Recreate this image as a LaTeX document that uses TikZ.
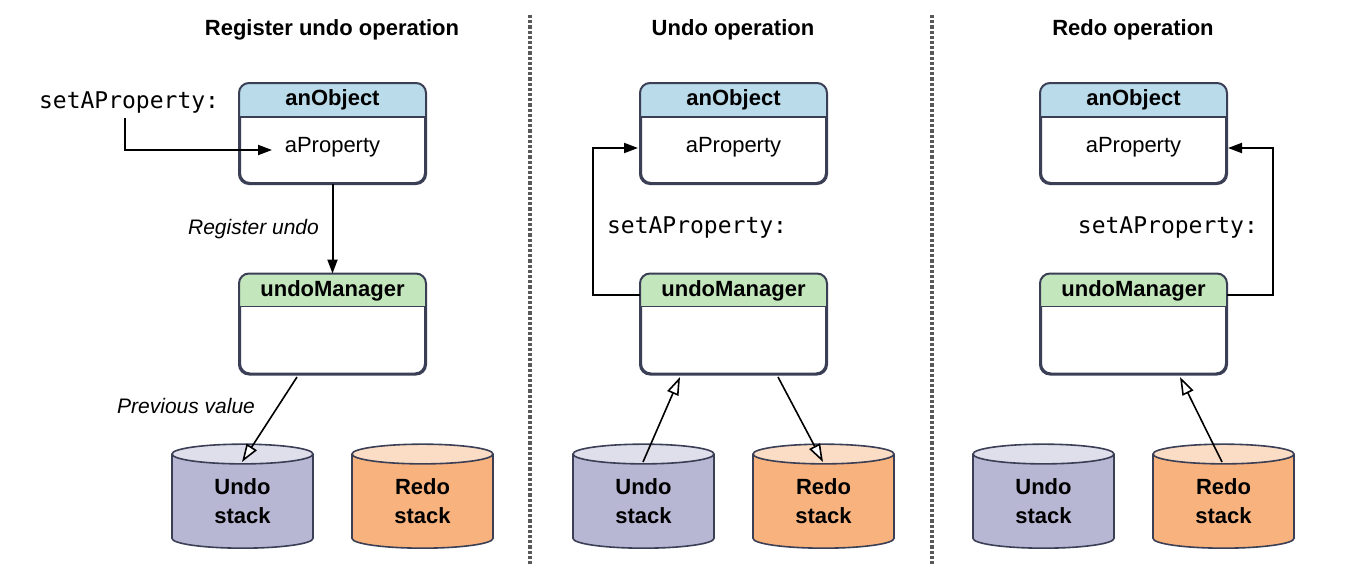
\documentclass[tikz,border=0pt]{standalone}
\usepackage{fontspec}
\setmainfont{Liberation Sans}
\newfontfamily\mono{DejaVu Sans Mono}
\usetikzlibrary{shapes.geometric,arrows.meta}
\definecolor{hblue}{HTML}{B9DBEA}
\definecolor{hgreen}{HTML}{C4E6BD}
\definecolor{cundo}{HTML}{B7B6D3}
\definecolor{credo}{HTML}{F7B27E}
\definecolor{bord}{HTML}{3A3F55}
\tikzset{
  x=0.5pt,y=-0.5pt,
  box/.style={draw=bord,line width=1pt,rounded corners=5pt,fill=white,minimum width=92.5pt,minimum height=49.5pt,inner sep=0pt},
  title/.style={font=\bfseries\fontsize{11}{13}\selectfont},
  hdr/.style={font=\bfseries\fontsize{11}{13}\selectfont},
  code/.style={font=\mono\fontsize{11.5}{13}\selectfont},
  lbl/.style={font=\itshape\fontsize{10.5}{12}\selectfont},
  cyl/.style={shape=cylinder,shape border rotate=90,aspect=0.35,draw=bord,line width=0.8pt,
     minimum width=70.5pt,minimum height=52pt,cylinder uses custom fill,
     align=center,font=\bfseries\fontsize{11}{14.5}\selectfont,inner sep=0pt},
  undoc/.style={cyl,cylinder body fill=cundo,cylinder end fill=cundo!45},
  redoc/.style={cyl,cylinder body fill=credo,cylinder end fill=credo!45},
  farr/.style={line width=1pt,-{Triangle[length=7pt,width=5pt]}},
  oarr/.style={line width=0.8pt,-{Triangle[open,length=9pt,width=6pt,fill=white]}},
  sep/.style={densely dotted,line width=1.6pt,gray!70!black}
}
\newcommand{\objbox}[2]{%
  \node[box] (#1) at (#2) {};
  \begin{scope}
    \clip[rounded corners=5pt] (#1.north west) rectangle (#1.south east);
    \fill[hblue] (#1.north west) rectangle ([yshift=-17pt]#1.north east);
  \end{scope}
  \draw[bord,line width=0.8pt] ([yshift=-17pt]#1.north west) -- ([yshift=-17pt]#1.north east);
  \draw[bord,line width=1pt,rounded corners=5pt] (#1.north west) rectangle (#1.south east);
  \node[hdr] at ([yshift=-8.5pt]#1.north) {anObject};
  \node[font=\fontsize{11}{13}\selectfont] (#1p) at ([yshift=-32pt]#1.north) {aProperty};
}
\newcommand{\mgrbox}[2]{%
  \node[box] (#1) at (#2) {};
  \begin{scope}
    \clip[rounded corners=5pt] (#1.north west) rectangle (#1.south east);
    \fill[hgreen] (#1.north west) rectangle ([yshift=-16.5pt]#1.north east);
  \end{scope}
  \draw[bord,line width=0.8pt] ([yshift=-16.5pt]#1.north west) -- ([yshift=-16.5pt]#1.north east);
  \draw[bord,line width=1pt,rounded corners=5pt] (#1.north west) rectangle (#1.south east);
  \node[hdr] at ([yshift=-8.5pt]#1.north) {undoManager};
}
\begin{document}
\begin{tikzpicture}
\useasboundingbox (0,0) rectangle (1350,578);
\draw[sep] (530,15) -- (530,565);
\draw[sep] (932,15) -- (932,565);
% titles
\node[title] at (332,30) {Register undo operation};
\node[title] at (733,30) {Undo operation};
\node[title] at (1133,30) {Redo operation};
% panel 1
\objbox{o1}{332.5,133.5}
\mgrbox{m1}{332.5,324}
\node[undoc] (u1) at (242.5,501.5) {Undo\\stack};
\node[redoc] (r1) at (422.5,501.5) {Redo\\stack};
\node[code,anchor=west] (s1) at (32,103) {setAProperty:};
\coordinate (c1) at (125,150);
\coordinate (t1) at (272,150);
\draw[farr] (125,118) -- (c1) -- (t1);
\draw[farr] (o1.south) -- (m1.north) node[midway,lbl,anchor=east,xshift=-3pt] {Register undo};
\coordinate (pv1) at (297,377);
\coordinate (pe1) at (242,462);
\draw[oarr] (pv1) -- (pe1);
\node[lbl,anchor=east] at (262,406) {Previous value};
% panel 2
\objbox{o2}{733.5,133.5}
\mgrbox{m2}{733.5,324}
\node[undoc] (u2) at (643.5,501.5) {Undo\\stack};
\node[redoc] (r2) at (823.5,501.5) {Redo\\stack};
\coordinate (a2) at (593,295);
\coordinate (b2) at (593,148);
\coordinate (e2) at (638,148);
\draw[farr] (m2.west |- a2) -- (a2) -- (b2) -- (e2);
\node[code,anchor=west] at (600,228) {setAProperty:};
\coordinate (us2) at (643,462);
\coordinate (ue2) at (680,377);
\coordinate (rs2) at (778,377);
\coordinate (re2) at (823,462);
\draw[oarr] (us2) -- (ue2);
\draw[oarr] (rs2) -- (re2);
% panel 3
\objbox{o3}{1133.5,133.5}
\mgrbox{m3}{1133.5,324}
\node[undoc] (u3) at (1043.5,501.5) {Undo\\stack};
\node[redoc] (r3) at (1223.5,501.5) {Redo\\stack};
\coordinate (a3) at (1273,295);
\coordinate (b3) at (1273,148);
\coordinate (e3) at (1228,148);
\draw[farr] (m3.east |- a3) -- (a3) -- (b3) -- (e3);
\node[code,anchor=east] at (1265,228) {setAProperty:};
\coordinate (rs3) at (1222,462);
\coordinate (re3) at (1180,377);
\draw[oarr] (rs3) -- (re3);
\end{tikzpicture}
\end{document}
